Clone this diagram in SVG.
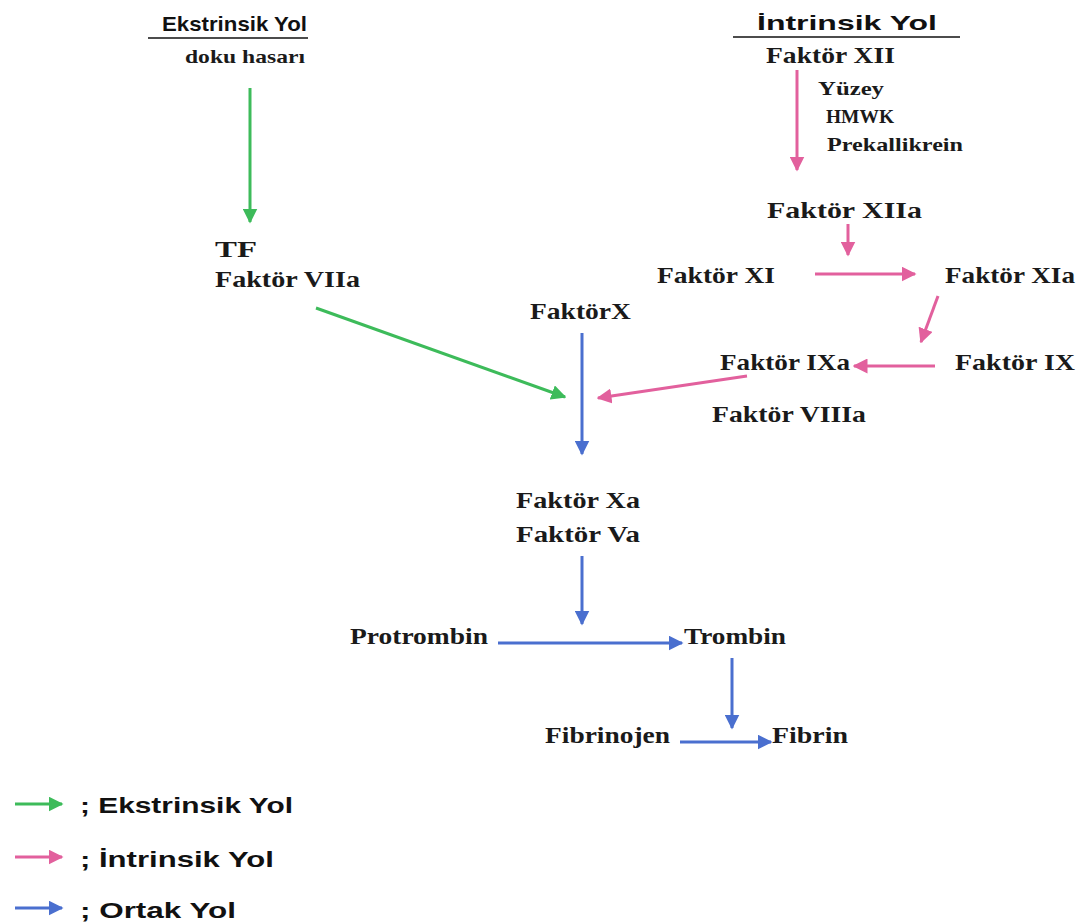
<svg xmlns="http://www.w3.org/2000/svg" width="1079" height="923" viewBox="0 0 1079 923">
<defs>
<style>
.s{font-family:"Liberation Serif","Times New Roman",serif;font-weight:bold;fill:#1a1a1a;}
.h{font-family:"Liberation Sans",Arial,sans-serif;font-weight:bold;fill:#111;}
.g{stroke:#3dbb5a;stroke-width:3;fill:none;}
.p{stroke:#e2609d;stroke-width:3;fill:none;}
.b{stroke:#4a6fcf;stroke-width:3;fill:none;}
</style>
<marker id="mg" viewBox="0 0 10 10" refX="9" refY="5" markerWidth="5" markerHeight="5" orient="auto" markerUnits="strokeWidth"><path d="M0,0 L10,5 L0,10 z" fill="#3dbb5a"/></marker>
<marker id="mp" viewBox="0 0 10 10" refX="9" refY="5" markerWidth="5" markerHeight="5" orient="auto" markerUnits="strokeWidth"><path d="M0,0 L10,5 L0,10 z" fill="#e2609d"/></marker>
<marker id="mb" viewBox="0 0 10 10" refX="9" refY="5" markerWidth="5" markerHeight="5" orient="auto" markerUnits="strokeWidth"><path d="M0,0 L10,5 L0,10 z" fill="#4a6fcf"/></marker>
</defs>
<rect width="1079" height="923" fill="#fff"/>

<g id="header-ext">
<text class="h" x="162" y="31" font-size="21" textLength="145" lengthAdjust="spacingAndGlyphs">Ekstrinsik Yol</text>
<line x1="148" y1="38" x2="308" y2="38" stroke="#111" stroke-width="1.5"/>
</g>
<g id="doku"><text class="s" x="185" y="63" font-size="19" textLength="120" lengthAdjust="spacingAndGlyphs">doku hasarı</text></g>

<g id="header-int">
<text class="h" x="757" y="30" font-size="21" textLength="180" lengthAdjust="spacingAndGlyphs">İntrinsik Yol</text>
<line x1="733" y1="37" x2="960" y2="37" stroke="#111" stroke-width="1.5"/>
</g>
<g id="fXII"><text class="s" x="766" y="63" font-size="23" textLength="129" lengthAdjust="spacingAndGlyphs">Faktör XII</text></g>
<g id="cofactors">
<text class="s" x="818" y="95" font-size="19" textLength="66" lengthAdjust="spacingAndGlyphs">Yüzey</text>
<text class="s" x="826" y="123" font-size="19" textLength="68" lengthAdjust="spacingAndGlyphs">HMWK</text>
<text class="s" x="827" y="151" font-size="19" textLength="136" lengthAdjust="spacingAndGlyphs">Prekallikrein</text>
</g>
<g id="tf"><text class="s" x="215" y="257" font-size="23" textLength="42" lengthAdjust="spacingAndGlyphs">TF</text>
<text class="s" x="215" y="287" font-size="23" textLength="145" lengthAdjust="spacingAndGlyphs">Faktör VIIa</text></g>
<g id="fXIIa"><text class="s" x="767" y="218" font-size="23" textLength="155" lengthAdjust="spacingAndGlyphs">Faktör XIIa</text></g>
<g id="fXI"><text class="s" x="657" y="283" font-size="23" textLength="118" lengthAdjust="spacingAndGlyphs">Faktör XI</text></g>
<g id="fXIa"><text class="s" x="945" y="283" font-size="23" textLength="130" lengthAdjust="spacingAndGlyphs">Faktör XIa</text></g>
<g id="fX"><text class="s" x="530" y="319" font-size="23" textLength="101" lengthAdjust="spacingAndGlyphs">FaktörX</text></g>
<g id="fIX"><text class="s" x="955" y="370" font-size="23" textLength="120" lengthAdjust="spacingAndGlyphs">Faktör IX</text></g>
<g id="fIXa"><text class="s" x="720" y="370" font-size="23" textLength="130" lengthAdjust="spacingAndGlyphs">Faktör IXa</text></g>
<g id="fVIIIa"><text class="s" x="712" y="422" font-size="23" textLength="154" lengthAdjust="spacingAndGlyphs">Faktör VIIIa</text></g>
<g id="fXaVa"><text class="s" x="516" y="508" font-size="23" textLength="124" lengthAdjust="spacingAndGlyphs">Faktör Xa</text>
<text class="s" x="516" y="542" font-size="23" textLength="124" lengthAdjust="spacingAndGlyphs">Faktör Va</text></g>
<g id="protrombin"><text class="s" x="350" y="644" font-size="23" textLength="138" lengthAdjust="spacingAndGlyphs">Protrombin</text></g>
<g id="trombin"><text class="s" x="684" y="644" font-size="23" textLength="102" lengthAdjust="spacingAndGlyphs">Trombin</text></g>
<g id="fibrinojen"><text class="s" x="545" y="743" font-size="23" textLength="125" lengthAdjust="spacingAndGlyphs">Fibrinojen</text></g>
<g id="fibrin"><text class="s" x="772" y="743" font-size="23" textLength="76" lengthAdjust="spacingAndGlyphs">Fibrin</text></g>

<g id="connectors">
<line class="g" x1="250" y1="88" x2="250" y2="222" marker-end="url(#mg)"/>
<line class="g" x1="316" y1="308" x2="565" y2="397" marker-end="url(#mg)"/>
<line class="p" x1="797" y1="70" x2="797" y2="170" marker-end="url(#mp)"/>
<line class="p" x1="848" y1="224" x2="848" y2="255" marker-end="url(#mp)"/>
<line class="p" x1="815" y1="274" x2="915" y2="274" marker-end="url(#mp)"/>
<line class="p" x1="938" y1="296" x2="921" y2="342" marker-end="url(#mp)"/>
<line class="p" x1="935" y1="366" x2="854" y2="366" marker-end="url(#mp)"/>
<line class="p" x1="747" y1="376" x2="598" y2="398" marker-end="url(#mp)"/>
<line class="b" x1="582" y1="333" x2="582" y2="454" marker-end="url(#mb)"/>
<line class="b" x1="582" y1="556" x2="582" y2="624" marker-end="url(#mb)"/>
<line class="b" x1="498" y1="643" x2="682" y2="643" marker-end="url(#mb)"/>
<line class="b" x1="732" y1="658" x2="732" y2="728" marker-end="url(#mb)"/>
<line class="b" x1="680" y1="742" x2="771" y2="742" marker-end="url(#mb)"/>
</g>

<g id="legend">
<line class="g" x1="15" y1="804" x2="62" y2="804" marker-end="url(#mg)"/>
<text class="h" x="80" y="813" font-size="22" textLength="213" lengthAdjust="spacingAndGlyphs">; Ekstrinsik Yol</text>
<line class="p" x1="15" y1="857" x2="62" y2="857" marker-end="url(#mp)"/>
<text class="h" x="80" y="867" font-size="22" textLength="194" lengthAdjust="spacingAndGlyphs">; İntrinsik Yol</text>
<line class="b" x1="15" y1="908" x2="62" y2="908" marker-end="url(#mb)"/>
<text class="h" x="80" y="918" font-size="22" textLength="156" lengthAdjust="spacingAndGlyphs">; Ortak Yol</text>
</g>
</svg>
